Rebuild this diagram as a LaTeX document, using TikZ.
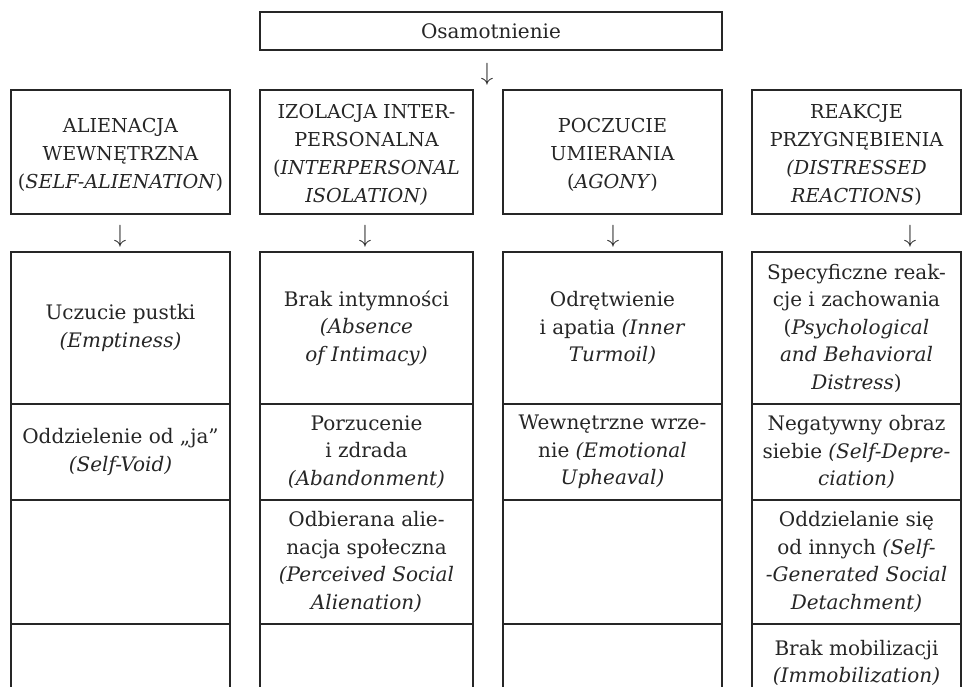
\documentclass[tikz,border=0pt]{standalone}
\usepackage{fontspec}
\setmainfont{DejaVu Serif}
\tikzset{
  cell/.style={draw=black!85, line width=1.1pt, inner sep=0pt, align=center,
    font=\fontsize{20}{27.5}\selectfont, text=black!85},
  headframe/.style={draw=black!85, line width=1.1pt, inner sep=0pt, minimum height=124pt},
  headtext/.style={inner sep=0pt, align=center, font=\fontsize{19.2}{28}\selectfont, text=black!85},
  arrowglyph/.style={inner sep=0pt, font=\fontsize{23}{24}\selectfont, text=black!85},
}
\begin{document}
\begin{tikzpicture}[x=1pt,y=-1pt]
\fill[white] (0,0) rectangle (962,687);
\useasboundingbox (0,0) rectangle (962,687);
\clip (0,0) rectangle (962,687);

% top
\node[cell, minimum width=462pt, minimum height=38pt] (top) at (491,31) {Osamotnienie};
\node[arrowglyph] (a0) at (487,74) {$\downarrow$};

% headers
\node[headframe, minimum width=219pt] (h1) at (120.5,152) {};
\node[headtext] (h1t) at (120.5,155)
  {ALIENACJA\\WEWNĘTRZNA\\(\textit{SELF-ALIENATION})};
\node[headframe, minimum width=213pt] (h2) at (366.5,152) {};
\node[headtext] (h2t) at (366.5,155)
  {IZOLACJA INTER-\\PERSONALNA\\(\textit{INTERPERSONAL}\\\textit{ISOLATION)}};
\node[headframe, minimum width=219pt] (h3) at (612.5,152) {};
\node[headtext] (h3t) at (612.5,155)
  {POCZUCIE\\UMIERANIA\\(\textit{AGONY})};
\node[headframe, minimum width=209pt] (h4) at (856.5,152) {};
\node[headtext] (h4t) at (856.5,155)
  {REAKCJE\\PRZYGNĘBIENIA\\\textit{(DISTRESSED}\\\textit{REACTIONS})};

% arrows
\node[arrowglyph] (a1) at (120,236) {$\downarrow$};
\node[arrowglyph] (a2) at (365,236) {$\downarrow$};
\node[arrowglyph] (a3) at (613,236) {$\downarrow$};
\node[arrowglyph] (a4) at (910,236) {$\downarrow$};

% column 1
\node[cell, minimum width=219pt, minimum height=152pt] (c11) at (120.5,328)
  {Uczucie pustki\\\textit{(Emptiness)}};
\node[cell, minimum width=219pt, minimum height=96pt] (c12) at (120.5,452)
  {Oddzielenie od „ja”\\\textit{(Self-Void)}};
\node[cell, minimum width=219pt, minimum height=124pt] (c13) at (120.5,562) {};
\node[cell, minimum width=219pt, minimum height=78pt] (c14) at (120.5,663) {};

% column 2
\node[cell, minimum width=213pt, minimum height=152pt] (c21) at (366.5,328)
  {Brak intymności\\\textit{(Absence}\\\textit{of Intimacy)}};
\node[cell, minimum width=213pt, minimum height=96pt] (c22) at (366.5,452)
  {Porzucenie\\i zdrada\\\textit{(Abandonment)}};
\node[cell, minimum width=213pt, minimum height=124pt] (c23) at (366.5,562)
  {Odbierana alie-\\nacja społeczna\\\textit{(Perceived Social}\\\textit{Alienation)}};
\node[cell, minimum width=213pt, minimum height=78pt] (c24) at (366.5,663) {};

% column 3
\node[cell, minimum width=219pt, minimum height=152pt] (c31) at (612.5,328)
  {Odrętwienie\\i apatia \textit{(Inner}\\\textit{Turmoil)}};
\node[cell, minimum width=219pt, minimum height=96pt] (c32) at (612.5,452)
  {Wewnętrzne wrze-\\nie \textit{(Emotional}\\\textit{Upheaval)}};
\node[cell, minimum width=219pt, minimum height=124pt] (c33) at (612.5,562) {};
\node[cell, minimum width=219pt, minimum height=78pt] (c34) at (612.5,663) {};

% column 4
\node[cell, minimum width=209pt, minimum height=152pt] (c41) at (856.5,328)
  {Specyficzne reak-\\cje i zachowania\\(\textit{Psychological}\\\textit{and Behavioral}\\\textit{Distress})};
\node[cell, minimum width=209pt, minimum height=96pt] (c42) at (856.5,452)
  {Negatywny obraz\\siebie \textit{(Self-Depre-}\\\textit{ciation)}};
\node[cell, minimum width=209pt, minimum height=124pt] (c43) at (856.5,562)
  {Oddzielanie się\\od innych \textit{(Self-}\\\textit{-Generated Social}\\\textit{Detachment)}};
\node[cell, minimum width=209pt, minimum height=78pt] (c44) at (856.5,663)
  {Brak mobilizacji\\\textit{(Immobilization)}};
\end{tikzpicture}
\end{document}
